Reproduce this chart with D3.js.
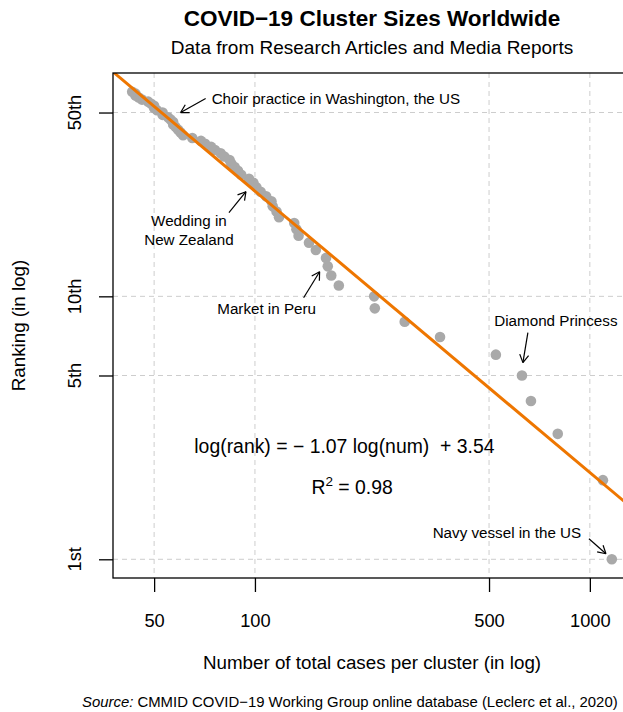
<!DOCTYPE html>
<html lang="en">
<head>
<meta charset="utf-8">
<script src="https://cdn.jsdelivr.net/npm/d3@7"></script>
<style>
  body { margin: 0; background: white; }
  svg { display: block; background: white; font-family: "Liberation Sans", Arial, sans-serif; }
  .grid line { stroke: #cdcdcd; stroke-width: 1; stroke-dasharray: 5,4; }
  .axis path.domain { display: none; }
  .axis line { stroke: black; stroke-width: 1.3; }
  .axis text { font-family: "Liberation Sans", Arial, sans-serif; font-size: 18.3px; fill: black; }
  .note text { font-size: 15.2px; fill: black; }
  .note line { stroke: black; stroke-width: 1.2; }
</style>
</head>
<body>
<svg width="623" height="712"></svg>
<script>
// cluster sizes (total cases), largest first -> rank 1, 2, ...
var clusterCases = [1163, 1094, 802, 667, 627, 524, 357, 280, 228, 227,
                    178, 169, 165, 163, 152, 145, 135, 133, 131, 118,
                    116, 113, 112, 108, 104, 101, 99, 96, 91, 89,
                    87, 85, 84, 81, 79, 76, 74, 71, 69, 65,
                    61, 60, 59, 58, 57, 57, 56, 55, 53, 53,
                    51, 50, 50, 49, 48, 46, 45, 44, 44, 43];

var xTicks = [50, 100, 500, 1000];
var yTicks = [1, 5, 10, 50];
var yTickLabels = ["1st", "5th", "10th", "50th"];

// log10(rank) = slope * log10(num) + intercept
var fitSlope = -1.07;
var fitIntercept = 3.54;
var fitR2 = 0.98;

// arrow tips in data space (num, rank)
var notes = [
  {text: ["Choir practice in Washington, the US"], num: 60, rank: 50},
  {text: ["Wedding in", "New Zealand"], num: 94, rank: 25},
  {text: ["Market in Peru"], num: 156, rank: 12.4},
  {text: ["Diamond Princess"], num: 631, rank: 5.6},
  {text: ["Navy vessel in the US"], num: 1117, rank: 1.05}
];

var svg = d3.select("svg"),
    margin = {top: 73, left: 113},
    plotW = 518,
    plotH = 505;

var points = clusterCases.map((d, i) => ({cases: d, rank: i + 1}));

// R style 4% padding on log axes
function padLog(ext) {
  var lo = Math.log10(ext[0]), hi = Math.log10(ext[1]), p = (hi - lo) * 0.04;
  return [Math.pow(10, lo - p), Math.pow(10, hi + p)];
}

var x = d3.scaleLog()
    .domain(padLog(d3.extent(points, d => d.cases)))
    .range([margin.left, margin.left + plotW]);
var y = d3.scaleLog()
    .domain(padLog(d3.extent(points, d => d.rank)))
    .range([margin.top + plotH, margin.top]);

svg.append("clipPath").attr("id", "plotclip")
  .append("rect")
    .attr("x", margin.left).attr("y", margin.top)
    .attr("width", plotW).attr("height", plotH);

// grid
var grid = svg.append("g").attr("class", "grid");
grid.selectAll("line.v").data(xTicks).enter().append("line")
    .attr("class", "v")
    .attr("x1", d => x(d)).attr("x2", d => x(d))
    .attr("y1", margin.top).attr("y2", margin.top + plotH);
grid.selectAll("line.h").data(yTicks).enter().append("line")
    .attr("class", "h")
    .attr("y1", d => y(d)).attr("y2", d => y(d))
    .attr("x1", margin.left).attr("x2", margin.left + plotW);

// points
svg.append("g")
  .selectAll("circle")
  .data(points)
  .enter().append("circle")
    .attr("cx", d => x(d.cases))
    .attr("cy", d => y(d.rank))
    .attr("r", 5.3)
    .style("fill", "#a9a9a9");

// fitted line
var fitLine = d3.line()
    .x(d => x(d))
    .y(d => y(Math.pow(10, fitIntercept + fitSlope * Math.log10(d))));

svg.append("path")
    .datum(x.domain())
    .attr("clip-path", "url(#plotclip)")
    .attr("d", fitLine)
    .style("fill", "none")
    .style("stroke", "#ee7600")
    .style("stroke-width", 3);

// box
svg.append("rect")
    .attr("x", margin.left).attr("y", margin.top)
    .attr("width", plotW).attr("height", plotH)
    .style("fill", "none")
    .style("stroke", "black")
    .style("stroke-width", 1.3);

// axes
var xAxis = svg.append("g")
    .attr("class", "axis")
    .attr("transform", "translate(0," + (margin.top + plotH) + ")")
    .call(d3.axisBottom(x).tickValues(xTicks).tickFormat(d3.format("d"))
      .tickSize(14).tickPadding(22).tickSizeOuter(0));
xAxis.attr("font-size", null).attr("font-family", null);

var yAxis = svg.append("g")
    .attr("class", "axis")
    .attr("transform", "translate(" + margin.left + ",0)")
    .call(d3.axisLeft(y).tickValues(yTicks).tickFormat("").tickSize(14).tickSizeOuter(0));

yAxis.selectAll("text.ylab")
  .data(yTicks)
  .enter().append("text")
    .attr("class", "ylab")
    .attr("transform", d => "translate(-32," + y(d) + ") rotate(-90)")
    .attr("text-anchor", "middle")
    .text((d, i) => yTickLabels[i]);

// annotations
var noteLayout = [
  {tail: [25, -14], label: [31, -8.5], anchor: "start"},
  {tail: [-17, 21], label: [-57, 34], anchor: "middle"},
  {tail: [-16, 26], label: [-53, 42], anchor: "middle"},
  {tail: [5, -30], label: [33, -37], anchor: "middle"},
  {tail: [-17, -15], label: [-99, -16], anchor: "middle"}
];

var noteG = svg.append("g").attr("class", "note")
  .selectAll("g")
  .data(notes)
  .enter().append("g");

noteG.each(function(d, i) {
  var g = d3.select(this),
      lay = noteLayout[i],
      tx = x(d.num), ty = y(d.rank),
      sx = tx + lay.tail[0], sy = ty + lay.tail[1],
      ang = Math.atan2(ty - sy, tx - sx),
      head = 9;
  g.append("line").attr("x1", sx).attr("y1", sy).attr("x2", tx).attr("y2", ty);
  [-Math.PI / 6, Math.PI / 6].forEach(function(a) {
    g.append("line")
      .attr("x1", tx).attr("y1", ty)
      .attr("x2", tx - head * Math.cos(ang + a))
      .attr("y2", ty - head * Math.sin(ang + a));
  });
  var t = g.append("text")
      .attr("text-anchor", lay.anchor)
      .attr("x", tx + lay.label[0])
      .attr("y", ty + lay.label[1]);
  d.text.forEach(function(s, k) {
    t.append("tspan")
      .attr("x", tx + lay.label[0])
      .attr("dy", k === 0 ? 0 : 19)
      .text(s);
  });
});

// fit equation
svg.append("text")
    .attr("x", x(185)).attr("y", y(2.7))
    .attr("dy", "0.35em")
    .attr("text-anchor", "middle")
    .style("font-size", "19.4px")
    .style("white-space", "pre")
    .text("log(rank) = \u2212 " + Math.abs(fitSlope).toFixed(2) + " log(num)  + " + fitIntercept.toFixed(2));

var r2 = svg.append("text")
    .attr("x", x(195)).attr("y", y(1.88))
    .attr("dy", "0.35em")
    .attr("text-anchor", "middle")
    .style("font-size", "19.4px")
    .style("white-space", "pre");
r2.append("tspan").text("R");
r2.append("tspan").attr("dy", -8).style("font-size", "13.5px").text("2");
r2.append("tspan").attr("dy", 8).text(" = " + fitR2.toFixed(2));

// titles and labels
var midX = margin.left + plotW / 2;

svg.append("text")
    .attr("x", midX).attr("y", 26)
    .attr("text-anchor", "middle")
    .style("font-size", "22.5px")
    .style("font-weight", "bold")
    .text("COVID\u221219 Cluster Sizes Worldwide");

svg.append("text")
    .attr("x", midX).attr("y", 54)
    .attr("text-anchor", "middle")
    .style("font-size", "19px")
    .text("Data from Research Articles and Media Reports");

svg.append("text")
    .attr("x", midX).attr("y", 669)
    .attr("text-anchor", "middle")
    .style("font-size", "18.8px")
    .text("Number of total cases per cluster (in log)");

svg.append("text")
    .attr("transform", "translate(25," + (margin.top + plotH / 2) + ") rotate(-90)")
    .attr("text-anchor", "middle")
    .style("font-size", "18.8px")
    .text("Ranking (in log)");

var src = svg.append("text")
    .attr("x", 82).attr("y", 706.5)
    .style("font-size", "14.9px")
    .style("white-space", "pre");
src.append("tspan").style("font-style", "italic").text("Source:");
src.append("tspan").text(" CMMID COVID\u221219 Working Group online database (Leclerc et al., 2020)");
</script>
</body>
</html>
